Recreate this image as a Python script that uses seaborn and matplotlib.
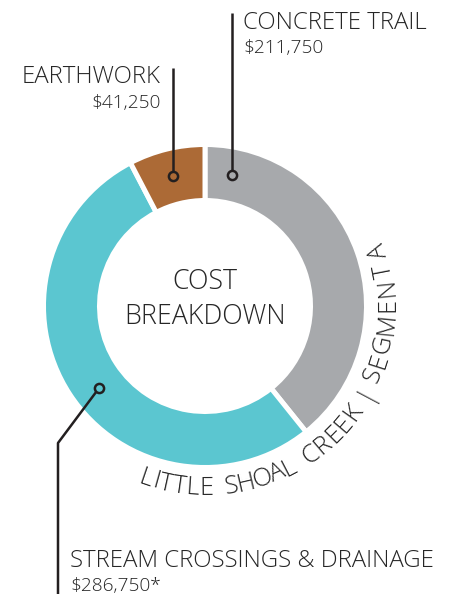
import numpy as np
import matplotlib
matplotlib.use("Agg")
import matplotlib.pyplot as plt
import seaborn as sns

# Cost breakdown data (clockwise from 12 o'clock)
categories = ["CONCRETE TRAIL", "STREAM CROSSINGS & DRAINAGE", "EARTHWORK"]
costs = [211750, 286750, 41250]
cost_labels = ["$211,750", "$286,750*", "$41,250"]
palette = ["#a7a9ac", "#5bc6d0", "#ac6a36"]
center_lines = ["COST", "BREAKDOWN"]
ring_caption = "LITTLE SHOAL CREEK | SEGMENT A"

sns.set_theme(style="white")
plt.rcParams["font.family"] = ["Open Sans", "DejaVu Sans"]

INK = "#231f20"
TXT = "#262626"
W, H = 453, 594
fig = plt.figure(figsize=(W / 100, H / 100), dpi=100)
ax = fig.add_axes([0, 0, 1, 1])

# ring geometry (pixel units, y up)
CX, CY = 205, H - 306
R_OUT, R_IN = 161.5, 105.5
GAP = 3.6

wedges, _ = ax.pie(
    costs, colors=palette, startangle=90, counterclock=False,
    center=(CX, CY), radius=R_OUT,
    wedgeprops=dict(width=R_OUT - R_IN, edgecolor="white", linewidth=GAP),
)
ax.set_xlim(0, W)
ax.set_ylim(0, H)
ax.set_aspect("equal")
ax.axis("off")


def ring_point(angle_cw, r=(R_OUT + R_IN) / 2):
    """Point on the ring for an angle measured clockwise from 12 o'clock."""
    a = np.radians(90 - angle_cw)
    return CX + r * np.cos(a), CY + r * np.sin(a)


total = sum(costs)
earth_mid = 360 * (costs[0] + costs[1] + costs[2] / 2) / total

DOT_R = 5.5
line_kw = dict(color=INK, lw=1.8, solid_capstyle="butt", zorder=3)
dot_kw = dict(marker="o", ms=6.6, mew=1.8, mfc="none", mec=INK, zorder=4)

# Concrete trail leader
x0, y0 = ring_point(11.7)
ax.plot([x0, x0], [H - 13, y0 + DOT_R], **line_kw)
ax.plot([x0], [y0], **dot_kw)

# Earthwork leader
x1, y1 = ring_point(earth_mid)
ax.plot([x1, x1], [H - 68, y1 + DOT_R], **line_kw)
ax.plot([x1], [y1], **dot_kw)

# Stream crossings leader (elbow)
x2, y2 = ring_point(232.3)
ex, ey = 58, H - 443
d = np.hypot(x2 - ex, y2 - ey)
sx, sy = x2 + (ex - x2) * DOT_R / d, y2 + (ey - y2) * DOT_R / d
ax.plot([sx, ex, ex], [sy, ey, -10], **line_kw)
ax.plot([x2], [y2], **dot_kw)

title_kw = dict(color=TXT, fontsize=17.3, fontweight="light", va="baseline")
value_kw = dict(color=TXT, fontsize=13.7, fontweight="light", va="baseline")

ax.text(243, H - 29, categories[0], ha="left", **title_kw)
ax.text(243, H - 53, cost_labels[0], ha="left", **value_kw)
ax.text(161, H - 83, categories[2], ha="right", **title_kw)
ax.text(161, H - 108, cost_labels[2], ha="right", **value_kw)
ax.text(70, H - 567, categories[1], ha="left", **title_kw)
ax.text(70, H - 591, cost_labels[1], ha="left", **value_kw)

center_kw = dict(color=TXT, fontsize=19.3, fontweight="light", ha="center", va="baseline")
ax.text(CX, H - 289, center_lines[0], **center_kw)
ax.text(CX, H - 324, center_lines[1], **center_kw)

# Caption set word by word along the outside of the ring;
# each word fills its own arc span (degrees, counter-clockwise from 3 o'clock)
ARC_FS = 18.3
R_BASE = 189
word_spans = [(-110.8, -87.4), (-83.6, -60.5), (-57.0, -33.3),
              (-28.9, -27.1), (-24.5, 13.0), (15.3, 20.1)]
arc_kw = dict(color=TXT, fontsize=ARC_FS, fontweight="light")

fig.canvas.draw()
renderer = fig.canvas.get_renderer()


def advance(s):
    t = ax.text(0, 0, "|" + s + "|", **arc_kw)
    w = t.get_window_extent(renderer).width
    t.remove()
    return w


bars = advance("")


def place_char(ch, theta):
    px, py = CX + R_BASE * np.cos(theta), CY + R_BASE * np.sin(theta)
    ax.text(px, py, ch, rotation=np.degrees(theta) + 90,
            rotation_mode="anchor", ha="center", va="baseline", **arc_kw)


for word, (a0, a1) in zip(ring_caption.split(), word_spans):
    t0, t1 = np.radians(a0), np.radians(a1)
    if len(word) == 1:
        place_char(word, (t0 + t1) / 2)
        continue
    widths = [advance(ch) - bars for ch in word]
    span = R_BASE * (t1 - t0)
    tracking = (span - sum(widths)) / (len(widths) - 1)
    s = 0.0
    for ch, w in zip(word, widths):
        place_char(ch, t0 + (s + w / 2) / R_BASE)
        s += w + tracking

fig.savefig("out.png", dpi=100)
